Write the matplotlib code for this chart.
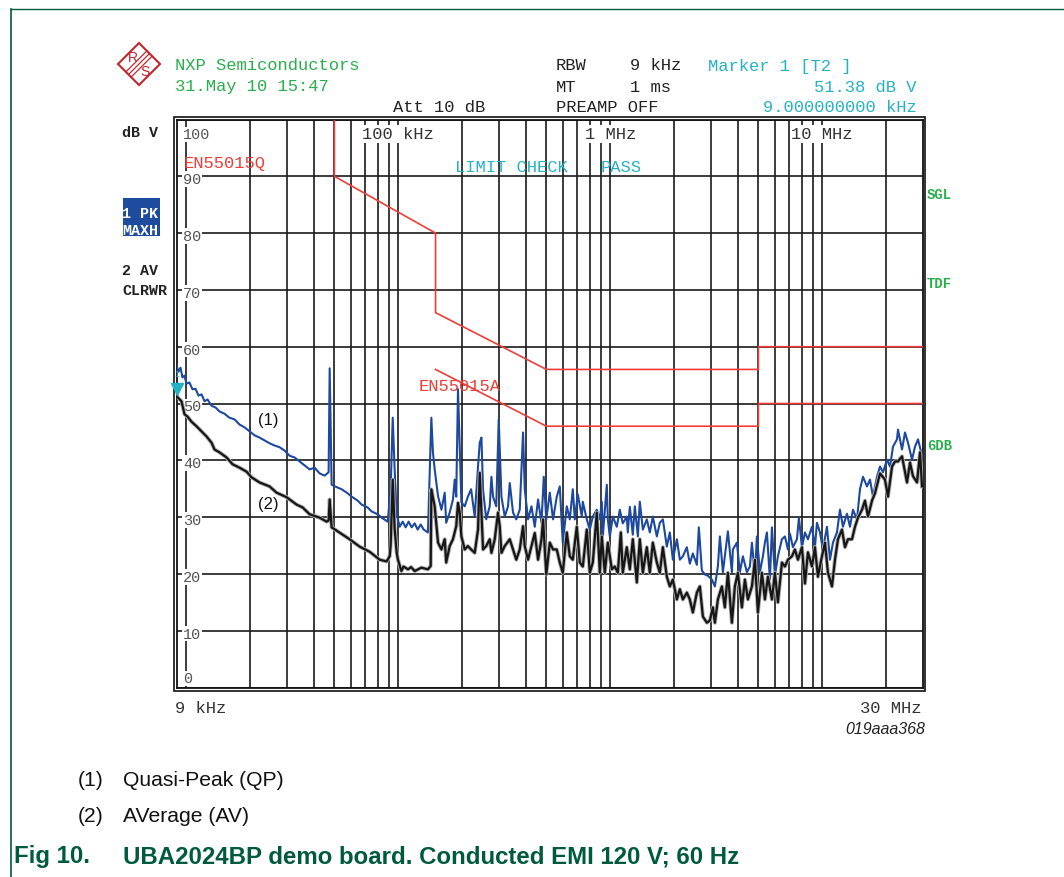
import matplotlib
matplotlib.use("Agg")
import matplotlib.pyplot as plt
from matplotlib.patches import Polygon, Rectangle
from matplotlib.transforms import ScaledTranslation
import matplotlib.patheffects as pe

# trace (1) quasi-peak, frequency in kHz, level in dBuV
qp_khz = [9.00, 9.20, 9.40, 9.60, 9.81, 10.03, 10.36, 10.71, 11.06, 11.43, 11.81, 12.20, 12.61, 13.17,
          13.75, 14.36, 15.16, 15.99, 16.91, 17.85, 18.85, 19.90, 21.01, 22.18, 23.42, 24.73, 26.12,
          27.58, 29.12, 30.74, 32.45, 34.27, 36.18, 38.20, 40.33, 42.59, 44.97, 46.96, 47.5, 48.52,
          51.79, 54.1, 57.7, 60.3, 64.4, 67.2, 71.7, 74.9, 80.0, 83.5, 89.2, 92.1, 94.2, 96.2, 98.3,
          101.6, 105.0, 108.4, 112.0, 115.7, 119.6, 123.5, 127.6, 131.9, 138.1, 143.3, 145.8, 148.6,
          154.1, 159.9, 165.7, 168.4, 174.9, 181.2, 184.7, 187.8, 191.4, 195.0, 198.6, 205.9, 213.1,
          220.7, 229.5, 237.9, 242.4, 246.9, 251.2, 260.1, 270.2, 275.2, 280.0, 290.0, 297.9, 306.8,
          318.0, 329.6, 335.8, 348.0, 360.4, 374.3, 388.0, 395.2, 409.6, 425.1, 440.6, 456.7, 473.9,
          485.9, 499.3, 518.7, 537.5, 559.6, 578.2, 597.3, 623.9, 644.6, 666.0, 680.6, 703.1, 734.4,
          742.3, 775.3, 801.0, 827.6, 864.3, 893.0, 912.6, 922.6, 963.6, 974.1, 995.6, 1028.5, 1074,
          1110, 1146, 1197, 1210, 1237, 1278, 1306, 1350, 1379, 1425, 1488, 1537, 1588, 1659, 1714,
          1771, 1849, 1910, 1974, 2062, 2130, 2201, 2298, 2374, 2453, 2562, 2618, 2705, 2795, 2887,
          3016, 3116, 3219, 3290, 3399, 3550, 3589, 3748, 3789, 3957, 4088, 4224, 4412, 4558, 4659,
          4814, 4918, 5081, 5250, 5365, 5483, 5665, 5790, 5981, 6179, 6454, 6669, 6889, 7040, 7273,
          7596, 7763, 8021, 8287, 8561, 8942, 9238, 9441, 9755, 10077, 10525, 10875, 11234, 11733,
          12122, 12524, 13080, 13514, 13961, 14582, 15066, 15566, 16256, 16796, 17352, 18122, 18724,
          19345, 20203, 20874, 21566, 22522, 22768, 23782, 24567, 25382, 26508, 27387, 28297, 29551]
qp_db = [56.7, 55.6, 56.3, 54.6, 54.9, 53.5, 53.7, 52.5, 52.6, 51.4, 51.6, 50.4, 50.7, 49.6,
         49.3, 48.6, 48.2, 47.5, 47.2, 46.3, 45.8, 45.1, 44.4, 44.0, 43.5, 43.0, 42.6,
         42.3, 41.7, 40.8, 40.5, 39.8, 39.1, 38.4, 38.7, 37.7, 37.3, 37.9, 56.2, 35.7,
         35.2, 34.9, 34.2, 33.6, 32.9, 32.2, 31.7, 31.0, 30.5, 29.9, 29.2, 34.9, 47.5, 38.4, 30.5,
         28.3, 29.2, 28.2, 29.2, 28.2, 28.9, 27.8, 28.7, 27.8, 27.3, 47.5, 41.4, 38.4,
         33.7, 31.3, 34.3, 29.0, 30.8, 33.1, 36.6, 33.6, 52.5, 42.4, 32.6, 31.9, 33.6,
         34.9, 30.1, 38.9, 43.1, 44.0, 34.9, 29.6, 31.9, 37.1, 33.6, 31.9, 47.2, 33.6,
         30.1, 31.9, 36.0, 30.8, 29.6, 31.3, 44.9, 34.9, 29.6, 31.9, 28.3, 33.1, 29.0,
         37.1, 29.6, 34.3, 29.6, 33.6, 35.4, 25.5, 31.9, 29.6, 34.9, 29.6, 34.0, 30.1,
         32.7, 29.6, 27.8, 30.1, 31.3, 29.6, 32.7, 26.6, 35.7, 29.6, 26.6, 30.1, 28.3,
         31.3, 28.9, 30.1, 27.3, 31.8, 26.9, 31.9, 26.6, 32.7, 27.8, 29.6, 27.3, 30.1, 26.6, 29.0,
         29.6, 24.8, 27.3, 22.5, 26.1, 22.5, 23.1, 24.7, 21.8, 23.6, 21.6, 28.2, 20.6, 19.9, 19.7,
         19.0, 17.8, 21.3, 26.6, 20.3, 26.1, 27.5, 20.3, 24.3, 25.5, 20.3, 23.1, 20.3, 21.3, 25.5,
         19.7, 26.6, 20.3, 23.1, 25.5, 27.3, 19.0, 28.2, 19.7, 23.1, 26.1, 26.6, 24.3, 27.1, 24.7,
         26.1, 29.9, 24.7, 27.3, 26.1, 28.3, 24.7, 29.0, 27.3, 24.3, 28.3, 22.5, 25.5, 27.3,
         31.3, 28.3, 30.6, 28.3, 31.3, 29.6, 34.9, 37.1, 35.4, 36.6, 33.6, 37.1, 38.9,
         37.9, 40.1, 38.9, 42.4, 43.7, 45.4, 41.9, 44.9, 43.1, 40.1, 42.4, 43.7, 40.8]

# trace (2) average
av_khz = [9.00, 9.10, 9.50, 9.82, 10.14, 10.59, 11.18, 11.81, 12.47, 13.17, 13.60, 14.36, 15.50,
          16.55, 17.85, 19.26, 20.34, 22.18, 24.73, 26.69, 29.75, 33.17, 35.41, 38.20, 42.59, 45.95,
          46.96, 47.5, 48.52, 52.80, 59.00, 65.77, 73.32, 81.75, 88.20, 91.13, 92.1, 94.2, 96.2,
          98.3, 99.7, 103.5, 106.0, 111.2, 115.0, 119.6, 128.6, 138.1, 142.3, 143.3, 148.6, 154.1,
          159.9, 165.7, 168.4, 174.9, 181.2, 187.8, 191.4, 195.0, 198.6, 205.9, 213.1, 220.7,
          229.5, 237.9, 242.4, 251.2, 260.1, 270.2, 275.2, 285.3, 295.6, 301.2, 306.8, 318.0,
          335.8, 348.0, 360.4, 374.3, 388.0, 395.2, 409.6, 425.1, 440.6, 456.7, 473.9, 482.2,
          499.3, 518.7, 537.5, 559.6, 578.2, 597.3, 623.9, 644.6, 666.0, 695.5, 718.6, 742.3,
          775.3, 801.0, 827.6, 864.3, 893.0, 912.6, 942.8, 974.1, 1017.5, 1051, 1086, 1122, 1146,
          1197, 1237, 1278, 1335, 1379, 1425, 1488, 1537, 1588, 1659, 1714, 1771, 1849, 1910, 1974,
          2062, 2130, 2201, 2298, 2374, 2453, 2562, 2647, 2735, 2856, 2951, 3049, 3116, 3219, 3362,
          3473, 3589, 3748, 3872, 4000, 4178, 4317, 4460, 4659, 4814, 4972, 5193, 5365, 5543, 5790,
          5981, 6179, 6454, 6669, 6889, 7195, 7433, 7679, 8021, 8287, 8561, 8942, 9238, 9544, 9968,
          10299, 10640, 11113, 11482, 11861, 12390, 12800, 13223, 13814, 14271, 14741, 15399,
          15908, 16433, 17166, 17734, 18724, 19764, 20424, 21333, 22040, 22768, 23782, 25108,
          25937, 26795, 27991, 28917, 29551]
av_db = [51.4, 51.1, 50.4, 48.1, 47.7, 46.8, 46.0, 45.1, 44.2, 43.1, 41.9, 41.4, 40.5,
         39.3, 38.7, 38.0, 37.0, 36.1, 35.4, 34.3, 33.5, 32.2, 31.7, 30.5, 29.9, 29.2,
         29.4, 33.1, 28.2, 27.3, 26.1, 24.8, 23.9, 22.5, 22.2, 23.1, 25.0, 36.6, 28.0,
         23.8, 22.5, 20.5, 21.3, 20.8, 21.2, 20.5, 21.1, 20.8, 21.4, 34.9, 31.9, 25.5,
         24.3, 26.1, 22.0, 24.9, 26.1, 28.4, 32.5, 30.8, 26.6, 24.3, 24.9, 24.3,
         23.7, 27.8, 37.8, 24.3, 24.9, 26.1, 23.7, 26.1, 30.8, 28.4, 23.7, 24.9,
         26.1, 24.3, 22.5, 24.3, 28.4, 24.9, 22.5, 24.9, 27.2, 22.5, 26.1, 29.6,
         19.9, 25.5, 24.3, 24.3, 22.0, 20.2, 27.3, 23.1, 22.5, 28.3, 22.0, 21.3,
         27.8, 20.2, 22.0, 30.8, 20.2, 26.6, 20.2, 25.5, 20.8, 21.3, 20.2, 27.3, 20.2,
         24.7, 20.8, 26.1, 18.5, 26.1, 20.2, 24.7, 20.2, 25.5, 22.0, 20.2, 24.7, 19.5, 17.8, 19.0,
         15.5, 17.3, 15.5, 16.7, 15.5, 13.2, 16.7, 17.8, 12.5, 11.4, 11.8, 14.1, 11.4, 15.5, 17.8,
         14.1, 20.2, 11.4, 17.8, 20.2, 14.1, 19.0, 15.5, 17.8, 22.5, 13.2, 20.2, 15.5, 19.5, 15.5,
         20.2, 15.0, 22.0, 21.3, 22.5, 23.1, 24.3, 22.5, 24.7, 18.3, 23.8, 21.3, 24.7, 19.5, 23.1,
         25.5, 20.2, 17.8, 22.5, 26.1, 27.8, 24.7, 26.1, 26.1, 28.3, 29.9, 31.3,
         32.9, 30.1, 32.9, 34.2, 37.7, 36.6, 33.6, 38.9, 39.8, 39.8, 40.7, 36.1,
         39.6, 37.2, 36.1, 41.4, 35.4]

# EN55015 limit lines
qpl_khz = [9, 50, 50, 150, 150, 500, 5000, 5000, 30000]
qpl_db = [110, 110, 90, 80, 66, 56, 56, 60, 60]
avl_khz = [150, 500, 5000, 5000, 30000]
avl_db = [56, 46, 46, 50, 50]

marker_khz = 9.0
marker_db = 51.38

y_ticks = [0, 10, 20, 30, 40, 50, 60, 70, 80, 90, 100]
decade_khz = [100, 1000, 10000]
decade_lbl = ["100 kHz", "1 MHz", "10 MHz"]

GREEN = "#2bae4d"
CYAN = "#25b3c4"
RED = "#ee3d38"
BLUE = "#1d49a0"
DKGREEN = "#005a3e"
MONO = "Liberation Mono"
SANS = "Liberation Sans"

W, H = 1064, 878
fig = plt.figure(figsize=(W / 100, H / 100), dpi=100)

# pixel overlay for page furniture
bg = fig.add_axes([0, 0, 1, 1], zorder=0)
bg.set_xlim(0, W)
bg.set_ylim(H, 0)
bg.axis("off")

L, R, T, B = 176.5, 923.4, 120.5, 688.5
ax = fig.add_axes([L / W, 1 - B / H, (R - L) / W, (B - T) / H], zorder=2)
ax.set_xscale("log")
ax.set_xlim(9, 30000)
ax.set_ylim(0, 100)
grid_khz = [m * 10 ** e for e in range(1, 5) for m in range(1, 10) if 9 < m * 10 ** e < 30000]
ax.set_xticks(grid_khz)
ax.set_xticks([], minor=True)
ax.set_yticks(y_ticks)
ax.tick_params(which="both", length=0, labelbottom=False, labelleft=False)
ax.grid(True, color="#1a1a1a", lw=1.2, zorder=1)
ax.set_axisbelow(True)
for s in ax.spines.values():
    s.set_linewidth(1.3)
    s.set_color("#111111")

# outer frame line (double border)
bg.add_patch(Rectangle((L - 3, T - 2.5), R - L + 5, B - T + 5.5, fill=False, lw=1.2, ec="#111111"))

# y labels inside the plot
ytr = ax.get_yaxis_transform()
for v in y_ticks:
    yy = min(max(v - 0.5, 1.6), 97.4)
    ax.text(0.009, yy, str(v), transform=ytr, fontsize=11, family=MONO, color="#555555",
            va="center", ha="left", zorder=2,
            bbox=dict(fc="white", ec="none", pad=0.5))
# decade labels along the top
xtr = ax.get_xaxis_transform()
for f, s in zip(decade_khz, decade_lbl):
    ax.text(f, 0.9745, s, transform=xtr, fontsize=12.3, family=MONO, color="#333333",
            va="center", ha="center", zorder=2, bbox=dict(fc="white", ec="none", pad=0.8))

ax.plot(qpl_khz, qpl_db, color=RED, lw=1.2, zorder=3)
ax.plot(avl_khz, avl_db, color=RED, lw=1.2, zorder=3)
ax.plot(qp_khz, qp_db, color=BLUE, lw=1.5, zorder=4)
ax.plot(av_khz, av_db, color="#161616", lw=1.6, zorder=5,
        path_effects=[pe.Stroke(linewidth=2.9, foreground="#b0b0b0"), pe.Normal()])

# marker 1
off = ScaledTranslation(0, 4.5 / 72, fig.dpi_scale_trans)
ax.plot([marker_khz], [marker_db], marker="v", ms=8, color=CYAN, mec=CYAN,
        transform=ax.transData + off, clip_on=False, zorder=6)
ax.text(marker_khz, marker_db, "1", transform=ax.transData + ScaledTranslation(0, 13 / 72, fig.dpi_scale_trans),
        fontsize=6.5, color=CYAN, ha="center", va="bottom", family=SANS, clip_on=False, zorder=6)

ax.text(0.009, 0.925, "EN55015Q", transform=ax.transAxes, fontsize=12.3, family=MONO, color=RED,
        va="center", ha="left", zorder=3)
ax.text(0.324, 0.532, "EN55015A", transform=ax.transAxes, fontsize=12.3, family=MONO, color=RED,
        va="center", ha="left", zorder=3)
ax.text(0.373, 0.918, "LIMIT CHECK", transform=ax.transAxes, fontsize=12.3, family=MONO, color=CYAN,
        va="center", ha="left", zorder=3)
ax.text(0.568, 0.918, "PASS", transform=ax.transAxes, fontsize=12.3, family=MONO, color=CYAN,
        va="center", ha="left", zorder=3)

# page border
bg.plot([10.5, 10.5], [10, H], color=DKGREEN, lw=1.2)
bg.plot([10.5, W], [10, 10], color=DKGREEN, lw=1.0)

# R&S logo
cx, cy, r = 139, 65, 21
bg.add_patch(Polygon([(cx, cy - r), (cx + r, cy), (cx, cy + r), (cx - r, cy)], closed=True,
                     fill=False, ec="#c4252f", lw=1.5))
for d in (-2.6, 0, 2.6):
    bg.plot([cx + 10.5 + d, cx - 10.5 + d], [cy - 10.5 + d, cy + 10.5 + d], color="#c4252f", lw=0.9)
bg.text(cx - 6, cy - 7, "R", fontsize=10, color="#c4252f", family=SANS, ha="center", va="center")
bg.text(cx + 6, cy + 7, "S", fontsize=10, color="#c4252f", family=SANS, ha="center", va="center")

hdr = dict(fontsize=12.3, family=MONO, va="center")
bg.text(175, 66, "NXP Semiconductors", color=GREEN, ha="left", **hdr)
bg.text(175, 87, "31.May 10 15:47", color=GREEN, ha="left", **hdr)
bg.text(393, 108, "Att 10 dB", color="#222222", ha="left", **hdr)
bg.text(556, 66, "RBW", color="#222222", ha="left", **hdr)
bg.text(630, 66, "9 kHz", color="#222222", ha="left", **hdr)
bg.text(708, 66, "Marker 1 [T2 ]", color=CYAN, ha="left", **hdr)
bg.text(556, 87, "MT", color="#222222", ha="left", **hdr)
bg.text(630, 87, "1 ms", color="#222222", ha="left", **hdr)
bg.text(917, 87, "51.38 dB V", color=CYAN, ha="right", **hdr)
bg.text(556, 108, "PREAMP OFF", color="#222222", ha="left", **hdr)
bg.text(917, 108, "9.000000000 kHz", color=CYAN, ha="right", **hdr)

side = dict(fontsize=10.8, family=MONO, weight="bold", va="center", ha="left")
bg.text(122, 133, "dB V", color="#222222", **side)
bg.add_patch(Rectangle((123, 199), 37, 38, fc="#1f4b9e", ec="none"))
bg.text(122, 214, "1 PK", color="white", **side)
bg.text(122, 231, "MAXH", color="white", **side)
bg.text(122, 271, "2 AV", color="#222222", **side)
bg.text(122, 291, "CLRWR", color="#222222", **side)

rs = dict(fontsize=10, family=MONO, weight="bold", color=GREEN, va="center", ha="left")
bg.text(927, 195, "SGL", **rs)
bg.text(927, 284, "TDF", **rs)
bg.text(927, 446, "6DB", **rs)

bg.text(175, 709, "9 kHz", fontsize=12.3, family=MONO, color="#333333", ha="left", va="center")
bg.text(921, 709, "30 MHz", fontsize=12.3, family=MONO, color="#333333", ha="right", va="center")
bg.text(925, 730, "019aaa368", fontsize=11.5, family=SANS, style="italic", color="#222222",
        ha="right", va="center")

fig.text(258 / W, 1 - 421 / H, "(1)", fontsize=12, family=SANS, color="#111111", va="center", zorder=7)
fig.text(258 / W, 1 - 505 / H, "(2)", fontsize=12, family=SANS, color="#111111", va="center", zorder=7)

bg.text(78, 781, "(1)", fontsize=15.2, family=SANS, color="#111111", va="center")
bg.text(123, 781, "Quasi-Peak (QP)", fontsize=15.2, family=SANS, color="#111111", va="center")
bg.text(78, 817, "(2)", fontsize=15.2, family=SANS, color="#111111", va="center")
bg.text(123, 817, "AVerage (AV)", fontsize=15.2, family=SANS, color="#111111", va="center")
bg.text(14, 857, "Fig 10.", fontsize=17.3, family=SANS, weight="bold", color=DKGREEN, va="center")
bg.text(123, 857, "UBA2024BP demo board. Conducted EMI 120 V; 60 Hz", fontsize=17.3, family=SANS,
        weight="bold", color=DKGREEN, va="center")

fig.savefig("out.png", dpi=100)
